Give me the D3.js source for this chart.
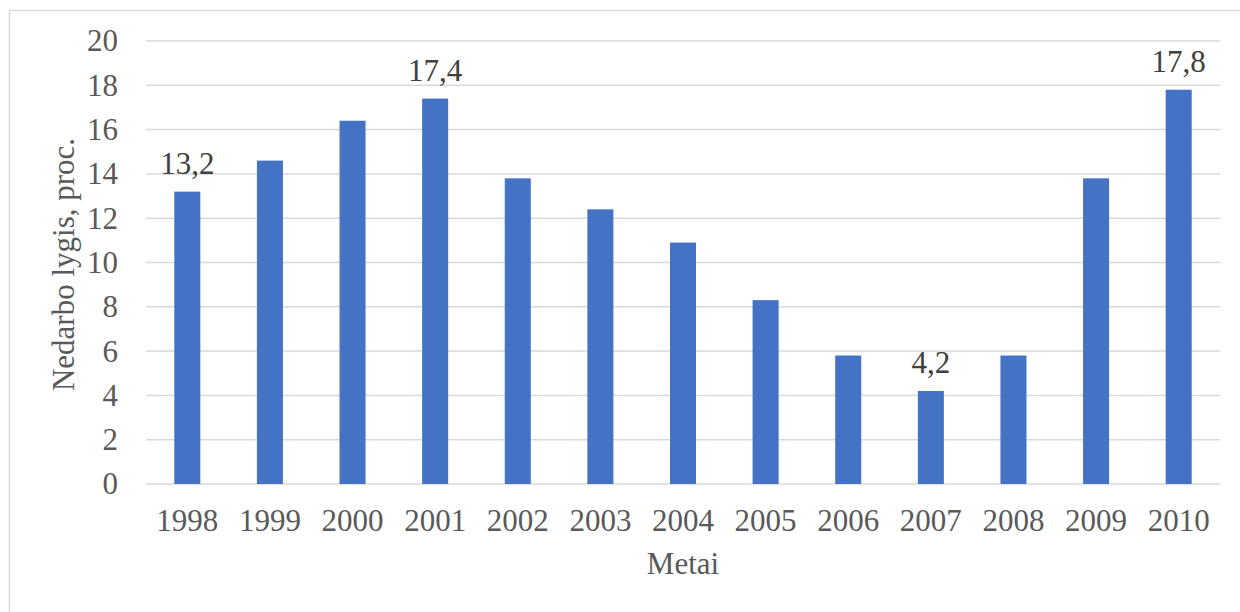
<!DOCTYPE html>
<html>
<head>
<meta charset="utf-8">
<script src="https://cdn.jsdelivr.net/npm/d3@7"></script>
<style>
  html, body { margin: 0; padding: 0; background: #ffffff; }
  svg { display: block; }
</style>
</head>
<body>
<svg id="chart" width="1240" height="612"></svg>
<script>
// Unemployment rate by year, percent
const years = ["1998", "1999", "2000", "2001", "2002", "2003", "2004", "2005", "2006", "2007", "2008", "2009", "2010"];
const rates = [13.2, 14.6, 16.4, 17.4, 13.8, 12.4, 10.9, 8.3, 5.8, 4.2, 5.8, 13.8, 17.8];
// Years whose bars carry a value label
const labelledYears = ["1998", "2001", "2007", "2010"];
const yTicks = [0, 2, 4, 6, 8, 10, 12, 14, 16, 18, 20];
const yTitle = "Nedarbo lygis, proc.";
const xTitle = "Metai";

const svg = d3.select("#chart");
const font = "'Liberation Serif', 'Times New Roman', serif";
const fontSize = 31;

// Chart frame
svg.append("rect")
  .attr("x", 9.5).attr("y", 10.5)
  .attr("width", 1250).attr("height", 620)
  .attr("fill", "#ffffff")
  .attr("stroke", "#d9d9d9").attr("stroke-width", 1.5);

const plot = { left: 146, right: 1220, top: 41, bottom: 484 };

const x = d3.scaleBand()
  .domain(years)
  .range([plot.left, plot.right])
  .paddingInner(0.685)
  .paddingOuter(0.3425);

const y = d3.scaleLinear()
  .domain([0, 20])
  .range([plot.bottom, plot.top]);

// Horizontal gridlines
svg.append("g")
  .selectAll("line")
  .data(yTicks)
  .join("line")
  .attr("x1", plot.left).attr("x2", plot.right)
  .attr("y1", d => y(d)).attr("y2", d => y(d))
  .attr("stroke", "#d9d9d9").attr("stroke-width", 1.5);

// Y axis labels
const yAxis = d3.axisLeft(y).tickValues(yTicks).tickSize(0).tickPadding(28);
svg.append("g")
  .attr("transform", `translate(${plot.left},0)`)
  .call(yAxis)
  .call(g => g.select(".domain").remove())
  .call(g => g.selectAll("text")
    .attr("font-family", font).attr("font-size", fontSize)
    .attr("fill", "#595959").attr("dy", "0.32em"));

// Bars
svg.append("g")
  .selectAll("rect")
  .data(years.map((yr, i) => ({ yr, v: rates[i] })))
  .join("rect")
  .attr("x", d => x(d.yr))
  .attr("width", x.bandwidth())
  .attr("y", d => y(d.v))
  .attr("height", d => y(0) - y(d.v))
  .attr("fill", "#4472c4");

// X axis labels
const xAxis = d3.axisBottom(x).tickSize(0).tickPadding(25);
svg.append("g")
  .attr("transform", `translate(0,${plot.bottom})`)
  .call(xAxis)
  .call(g => g.select(".domain").remove())
  .call(g => g.selectAll("text")
    .attr("font-family", font).attr("font-size", fontSize)
    .attr("fill", "#595959"));

// Value labels
svg.append("g")
  .selectAll("text")
  .data(years.map((yr, i) => ({ yr, v: rates[i] })).filter(d => labelledYears.includes(d.yr)))
  .join("text")
  .attr("x", d => x(d.yr) + x.bandwidth() / 2)
  .attr("y", d => y(d.v) - 18)
  .attr("text-anchor", "middle")
  .attr("font-family", font).attr("font-size", fontSize)
  .attr("fill", "#404040")
  .text(d => d3.format(".1f")(d.v).replace(".", ","));

// Axis titles
svg.append("text")
  .attr("transform", `translate(74,${(plot.top + plot.bottom) / 2 + 2}) rotate(-90)`)
  .attr("text-anchor", "middle")
  .attr("font-family", font).attr("font-size", fontSize)
  .attr("fill", "#595959")
  .text(yTitle);

svg.append("text")
  .attr("x", (plot.left + plot.right) / 2)
  .attr("y", 574)
  .attr("text-anchor", "middle")
  .attr("font-family", font).attr("font-size", fontSize)
  .attr("fill", "#595959")
  .text(xTitle);
</script>
</body>
</html>
